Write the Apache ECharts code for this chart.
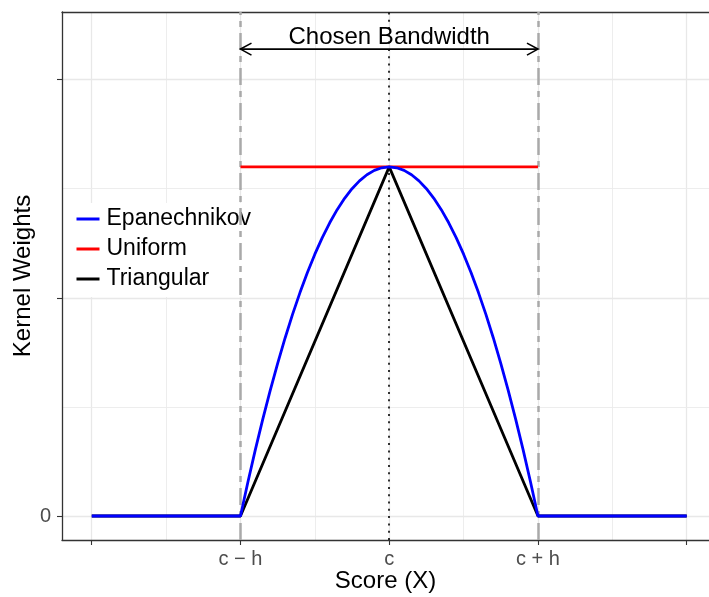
<!DOCTYPE html>
<html>
<head>
<meta charset="utf-8">
<script src="https://cdn.jsdelivr.net/npm/echarts@6/dist/echarts.min.js"></script>
<style>html,body{margin:0;padding:0;background:#fff;}#chart{width:709px;height:597px;}</style>
</head>
<body>
<div id="chart"></div>
<script>
// ---- data ----
const seriesNames = ['Epanechnikov', 'Uniform', 'Triangular'];
const epanX = [-2, -1, -0.95, -0.9, -0.85, -0.8, -0.75, -0.7, -0.65, -0.6, -0.55, -0.5, -0.45, -0.4, -0.35, -0.3, -0.25, -0.2, -0.15, -0.1, -0.05, 0,
               0.05, 0.1, 0.15, 0.2, 0.25, 0.3, 0.35, 0.4, 0.45, 0.5, 0.55, 0.6, 0.65, 0.7, 0.75, 0.8, 0.85, 0.9, 0.95, 1, 2];
const epanY = [0, 0, 0.078, 0.152, 0.222, 0.288, 0.35, 0.408, 0.462, 0.512, 0.558, 0.6, 0.638, 0.672, 0.702, 0.728, 0.75, 0.768, 0.782, 0.792, 0.798, 0.8,
               0.798, 0.792, 0.782, 0.768, 0.75, 0.728, 0.702, 0.672, 0.638, 0.6, 0.558, 0.512, 0.462, 0.408, 0.35, 0.288, 0.222, 0.152, 0.078, 0, 0];
const unifX = [-1, 1];
const unifY = [0.8, 0.8];
const triX = [-2, -1, 0, 1, 2];
const triY = [0, 0, 0.8, 0, 0];
const xTickValues = [-2, -1, 0, 1, 2];
const xTickLabels = ['', 'c \u2212 h', 'c', 'c + h', ''];
const yTickValues = [0, 0.5, 1];
const yTickLabels = ['0', '', ''];
const xMinorGrid = [-1.5, -0.5, 0.5, 1.5];
const yMinorGrid = [0.25, 0.75];
const bandEdges = [-1, 1];
const cutoff = 0;
const arrowY = 1.07;
const annotationY = 1.097;
const annotationText = 'Chosen Bandwidth';
const xTitle = 'Score (X)';
const yTitle = 'Kernel Weights';

const FONT = '"Liberation Sans", Arial, Helvetica, sans-serif';
const zip = (xs, ys) => xs.map((x, i) => [x, ys[i]]);

const gridLines = [];
xTickValues.forEach(v => gridLines.push({xAxis: v, lineStyle: {color: '#e8e8e8', width: 1.3, type: 'solid'}}));
xMinorGrid.forEach(v => gridLines.push({xAxis: v, lineStyle: {color: '#ebebeb', width: 0.9, type: 'solid'}}));
yTickValues.forEach(v => gridLines.push({yAxis: v, lineStyle: {color: '#e8e8e8', width: 1.3, type: 'solid'}}));
yMinorGrid.forEach(v => gridLines.push({yAxis: v, lineStyle: {color: '#ebebeb', width: 0.9, type: 'solid'}}));

const refLines = bandEdges.map(v => ({xAxis: v, lineStyle: {color: '#a9a9a9', width: 2.5, type: [17, 6, 6, 6]}}));
refLines.push({xAxis: cutoff, lineStyle: {color: '#000', width: 1.6, type: [2, 5.3]}});

const X_MIN = -2.2, X_MAX = 2.15, Y_MIN = -0.055, Y_MAX = 1.155;
const borderLine = {show: true, onZero: false, lineStyle: {color: '#333', width: 1.3}};

const chart = echarts.init(document.getElementById('chart'), null, {renderer: 'canvas'});
chart.setOption({
  animation: false,
  backgroundColor: '#fff',
  textStyle: {fontFamily: FONT},
  grid: {left: 62, top: 12, right: 0, bottom: 57, containLabel: false, outerBoundsMode: 'none'},
  legend: {
    data: seriesNames,
    orient: 'vertical', left: 67, top: 203, z: 1,
    backgroundColor: '#ffffff', padding: [4, 6, 6, 8],
    itemWidth: 23, itemHeight: 14, itemGap: 6,
    itemStyle: {opacity: 0},
    lineStyle: {width: 3},
    textStyle: {fontSize: 23, color: '#000', fontFamily: FONT, lineHeight: 24, padding: [0, 0, 0, 2]},
    selectedMode: false
  },
  xAxis: [{
    type: 'value', min: X_MIN, max: X_MAX,
    name: xTitle, nameLocation: 'middle', nameGap: 29, nameMoveOverlap: false,
    nameTextStyle: {fontSize: 24, color: '#000', fontFamily: FONT},
    axisLine: borderLine,
    axisTick: {show: true, customValues: xTickValues, length: 5, lineStyle: {color: '#333', width: 1.1}},
    axisLabel: {show: true, customValues: xTickValues, margin: 9, fontSize: 20, color: '#4d4d4d', fontFamily: FONT,
      formatter: v => { const i = xTickValues.indexOf(v); return i >= 0 ? xTickLabels[i] : ''; }},
    splitLine: {show: false}
  }, {
    type: 'value', position: 'top', min: X_MIN, max: X_MAX,
    axisLine: borderLine, axisTick: {show: false}, axisLabel: {show: false}, splitLine: {show: false}
  }],
  yAxis: {
    type: 'value', min: Y_MIN, max: Y_MAX,
    name: yTitle, nameLocation: 'middle', nameGap: 27, nameRotate: 90, nameMoveOverlap: false,
    nameTextStyle: {fontSize: 24, color: '#000', fontFamily: FONT},
    axisLine: borderLine,
    axisTick: {show: true, customValues: yTickValues, length: 5, lineStyle: {color: '#333', width: 1.1}},
    axisLabel: {show: true, customValues: yTickValues, margin: 11, fontSize: 20, color: '#4d4d4d', fontFamily: FONT,
      formatter: v => { const i = yTickValues.indexOf(v); return i >= 0 ? yTickLabels[i] : ''; }},
    splitLine: {show: false}
  },
  series: [
    {
      type: 'line', data: [], silent: true, z: 0,
      markLine: {silent: true, z: 0, symbol: ['none', 'none'], label: {show: false}, animation: false, data: gridLines}
    },
    {
      type: 'line', data: [], silent: true, z: 2,
      markLine: {silent: true, z: 2, symbol: ['none', 'none'], label: {show: false}, animation: false, data: refLines}
    },
    {
      name: 'Uniform', type: 'line', data: zip(unifX, unifY), z: 3,
      showSymbol: false, symbol: 'none', color: '#ff0000',
      lineStyle: {color: '#ff0000', width: 2.8}
    },
    {
      name: 'Triangular', type: 'line', data: zip(triX, triY), z: 4,
      showSymbol: false, symbol: 'none', color: '#000000',
      lineStyle: {color: '#000000', width: 2.8}
    },
    {
      name: 'Epanechnikov', type: 'line', data: zip(epanX, epanY), z: 5,
      showSymbol: false, symbol: 'none', color: '#0000ff',
      lineStyle: {color: '#0000ff', width: 2.8}
    },
    {
      type: 'custom', silent: true, z: 6,
      data: [[bandEdges[0], arrowY, bandEdges[1], annotationY]],
      renderItem: (params, api) => {
        const a = api.coord([api.value(0), api.value(1)]);
        const b = api.coord([api.value(2), api.value(1)]);
        const t = api.coord([(api.value(0) + api.value(2)) / 2, api.value(3)]);
        const L = 11, W = 6;
        const st = {stroke: '#000', lineWidth: 1.6, fill: null};
        return {type: 'group', children: [
          {type: 'line', shape: {x1: a[0], y1: a[1], x2: b[0], y2: b[1]}, style: st},
          {type: 'polyline', shape: {points: [[a[0] + L, a[1] - W], [a[0], a[1]], [a[0] + L, a[1] + W]]}, style: st},
          {type: 'polyline', shape: {points: [[b[0] - L, b[1] - W], [b[0], b[1]], [b[0] - L, b[1] + W]]}, style: st},
          {type: 'text', x: t[0], y: t[1], style: {text: annotationText, fontSize: 24, fontFamily: FONT, fill: '#000', align: 'center', verticalAlign: 'middle'}}
        ]};
      }
    }
  ]
});
</script>
</body>
</html>
